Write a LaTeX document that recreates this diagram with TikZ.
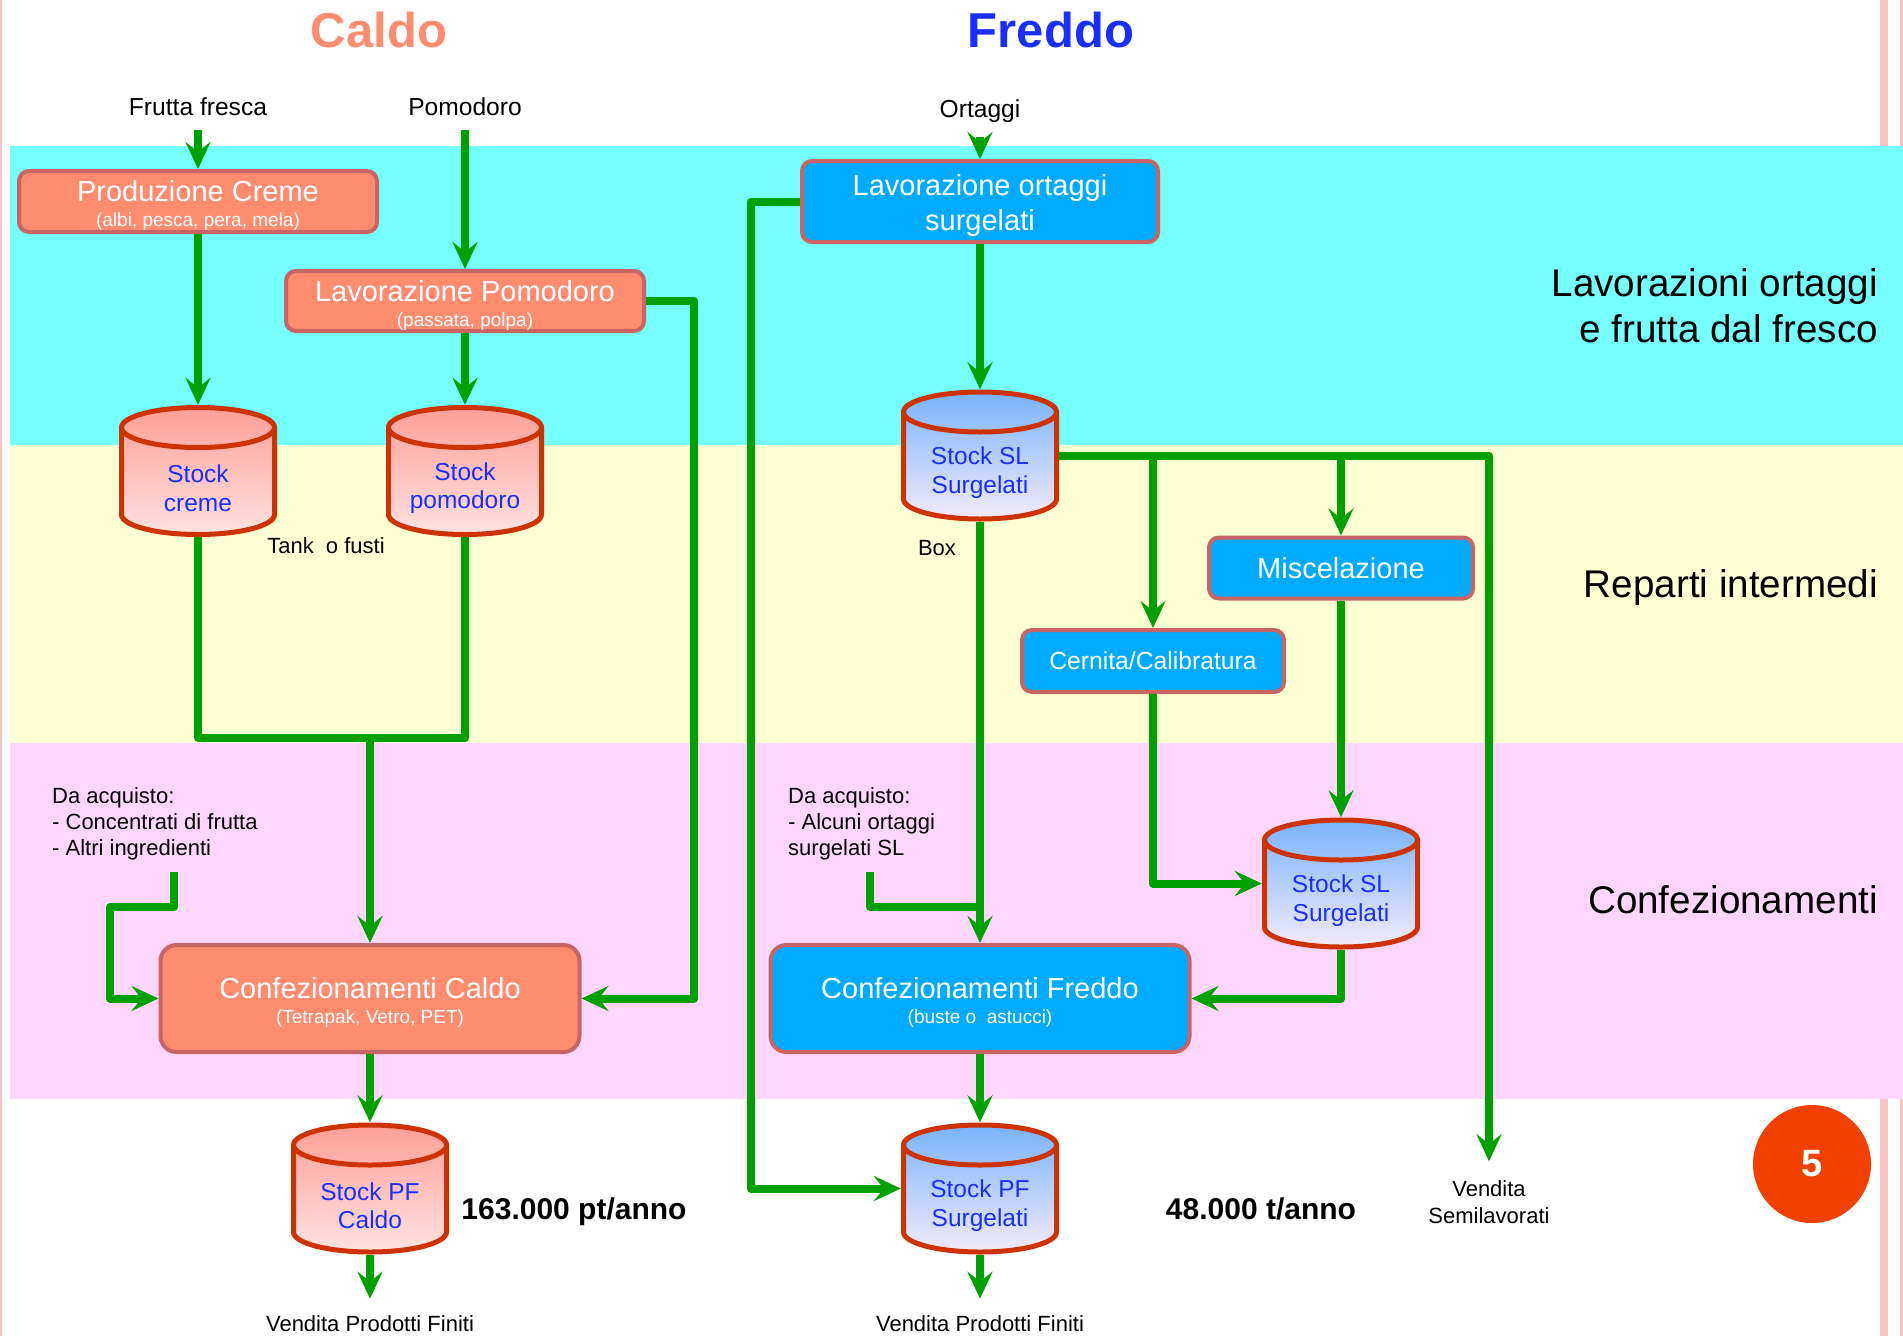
\documentclass[tikz,border=0pt]{standalone}
\usepackage{fontspec}
\setmainfont{Liberation Sans}
\usetikzlibrary{arrows.meta}

\definecolor{bandcyan}{RGB}{117,255,255}
\definecolor{bandyellow}{RGB}{255,255,212}
\definecolor{bandpink}{RGB}{255,214,255}
\definecolor{salmon}{RGB}{255,140,110}
\definecolor{skyblue}{RGB}{0,170,255}
\definecolor{boxline}{RGB}{200,100,100}
\definecolor{tankline}{RGB}{204,51,0}
\definecolor{flowgreen}{RGB}{0,160,0}
\definecolor{inkblue}{RGB}{26,46,255}
\definecolor{redtop}{RGB}{255,158,150}
\definecolor{redbottom}{RGB}{255,228,226}
\definecolor{bluetop}{RGB}{118,178,255}
\definecolor{bluebottom}{RGB}{246,236,250}
\definecolor{pagedot}{RGB}{242,64,0}
\definecolor{edgepink}{RGB}{248,196,196}

\newcommand\tankpath[2]{%
  \draw[line width=5pt, draw=tankline, top color=#1, bottom color=#2]
    ([shift={(2.5pt,-22.5pt)}]path picture bounding box.north west)
    -- ([shift={(2.5pt,22.5pt)}]path picture bounding box.south west)
    arc[start angle=180, end angle=360, x radius=76.5pt, y radius=20pt]
    -- ([shift={(-2.5pt,-22.5pt)}]path picture bounding box.north east)
    arc[start angle=0, end angle=180, x radius=76.5pt, y radius=20pt]
    -- cycle;
  \draw[line width=5pt, draw=tankline]
    ([shift={(2.5pt,-22.5pt)}]path picture bounding box.north west)
    arc[start angle=180, end angle=360, x radius=76.5pt, y radius=20pt];}
\newcommand\boxsub[1]{{\fontsize{19}{22}\selectfont #1}}
\newcommand\tstrut{\rule{0pt}{29pt}}

\begin{document}
\begin{tikzpicture}[
		x=1pt, y=-1pt,
		flowline/.style={draw=flowgreen, line width=8pt, line join=round},
		flow/.style={flowline, -{Stealth[length=27pt, width=25pt, inset=10pt]}},
		box/.style={rectangle, draw=boxline, line width=4pt, rounded corners=10pt, inner sep=0pt,
				text=white, align=center, font=\fontsize{29}{31}\selectfont},
		hot/.style={box, fill=salmon},
		cold/.style={box, fill=skyblue},
		big/.style={minimum width=419pt, minimum height=107pt, rounded corners=16pt},
		tank/.style={rectangle, inner sep=0pt, minimum width=158pt, minimum height=132pt,
				label={[tanktext]center:#1}},
		hottank/.style={tank={#1}, path picture={\tankpath{redtop}{redbottom}}},
		coldtank/.style={tank={#1}, path picture={\tankpath{bluetop}{bluebottom}}},
		tanktext/.style={text=inkblue, align=center, inner sep=0pt, yshift=-17pt,
				font=\fontsize{24.5}{28.5}\selectfont},
		title/.style={inner sep=0pt, font=\bfseries\fontsize{49}{56}\selectfont},
		source/.style={inner sep=0pt, font=\fontsize{24.6}{29}\selectfont},
		note/.style={inner sep=0pt, anchor=north west, align=left, font=\fontsize{22}{26}\selectfont},
		small/.style={inner sep=0pt, align=center, font=\fontsize{22}{27}\selectfont},
		amount/.style={inner sep=0pt, font=\bfseries\fontsize{30}{34}\selectfont},
		area/.style={inner sep=0pt, anchor=east, align=right, font=\fontsize{38.6}{46}\selectfont}
	]
	\useasboundingbox (0,0) rectangle (1903,1336);
	\fill[white] (0,0) rectangle (1903,1336);
	\fill[edgepink] (0,0) rectangle (2,1336);
	\fill[edgepink] (1880,0) rectangle (1888,1336);
	\fill[edgepink] (1900,0) rectangle (1903,1336);
	\fill[bandcyan] (10,146) rectangle (1903,445);
	\fill[bandyellow] (10,445) rectangle (1903,743);
	\fill[bandpink] (10,743) rectangle (1903,1099);

	\node[title, text=salmon] (caldo) at (379,30) {Caldo};
	\node[title, text=inkblue] (freddo) at (1051,30) {Freddo};

	\node[source] (frutta) at (198,107) {Frutta fresca};
	\node[source] (pomodoro) at (465,107) {Pomodoro};
	\node[source] (ortaggi) at (980,111) {Ortaggi};

	\node[hot, minimum width=358pt, minimum height=61pt] (prodcreme) at (198,201.5)
		{\tstrut Produzione Creme\\[-6pt]\boxsub{(albi, pesca, pera, mela)}};
	\node[hot, minimum width=358pt, minimum height=60pt] (lavpom) at (465,301)
		{\tstrut Lavorazione Pomodoro\\[-6pt]\boxsub{(passata, polpa)}};
	\node[cold, minimum width=356pt, minimum height=81pt, font=\fontsize{29}{35}\selectfont] (lavort) at (980,201.5)
		{\tstrut Lavorazione ortaggi\\surgelati};

	\node[hottank={Stock\\creme}] (screme) at (198,471) {};
	\node[hottank={Stock\\pomodoro}] (spom) at (465,471) {};
	\node[coldtank={Stock SL\\Surgelati}] (sslt) at (980,455.5) {};
	\node[small] (tanklbl) at (326,546) {Tank~ o fusti};
	\node[small] (boxlbl) at (937,548) {Box};

	\node[cold, minimum width=264pt, minimum height=61pt] (misc) at (1341,568) {Miscelazione};
	\node[cold, minimum width=262pt, minimum height=62pt, font=\fontsize{24.7}{29}\selectfont] (cernita) at (1153,661)
		{Cernita/Calibratura};
	\node[coldtank={Stock SL\\Surgelati}] (ssll) at (1341,883.5) {};

	\node[note] (acqcaldo) at (52,787) {Da acquisto:\\- Concentrati di frutta\\- Altri ingredienti};
	\node[note] (acqfreddo) at (788,787) {Da acquisto:\\- Alcuni ortaggi\\surgelati SL};
	\coordinate (acqcaldo-out) at (174,872);
	\coordinate (acqfreddo-out) at (870,872);

	\node[hot, big] (confcaldo) at (370,998.5)
		{\tstrut Confezionamenti Caldo\\[-6pt]\boxsub{(Tetrapak, Vetro, PET)}};
	\node[cold, big] (conffreddo) at (980,998.5)
		{\tstrut Confezionamenti Freddo\\[-6pt]\boxsub{(buste o~ astucci)}};

	\node[hottank={Stock PF\\Caldo}] (spfcaldo) at (370,1188.5) {};
	\node[coldtank={Stock PF\\Surgelati}] (spfsurg) at (980,1188.5) {};
	\node[amount] (qcaldo) at (574,1212) {163.000 pt/anno};
	\node[amount] (qfreddo) at (1261,1209) {48.000 t/anno};
	\node[small] (vendcaldo) at (370,1324) {Vendita Prodotti Finiti};
	\node[small] (vendfreddo) at (980,1324) {Vendita Prodotti Finiti};
	\node[small] (vendsemi) at (1489,1202) {Vendita\\Semilavorati};

	\node[area] (fasefresco) at (1878,306) {Lavorazioni ortaggi\\e frutta dal fresco};
	\node[area] (fasereparti) at (1878,588) {Reparti intermedi};
	\node[area] (faseconf) at (1878,900) {Confezionamenti};

	\node[circle, fill=pagedot, minimum size=118pt, inner sep=0pt, text=white,
		font=\bfseries\fontsize{38}{40}\selectfont] (pagenum) at (1812,1164) {5};

	\draw[flow, shorten <=14pt] (frutta) -- (prodcreme);
	\draw[flow, shorten <=14pt] (pomodoro) -- (lavpom);
	\draw[flow, shorten <=14pt] (ortaggi) -- (lavort);
	\draw[flow] (prodcreme) -- (screme);
	\draw[flow] (lavpom) -- (spom);
	\coordinate (merge) at (370,738);
	\draw[flowline] (screme.south) |- (merge) -| (spom.south);
	\draw[flow] (merge) -- (confcaldo);
	\draw[flow] (lavpom.east) -- ++(48,0) |- (confcaldo.east);
	\draw[flow] (acqcaldo-out) |- (110,907) |- (confcaldo.west);
	\draw[flow] (confcaldo) -- (spfcaldo);
	\draw[flow, shorten >=17pt] (spfcaldo) -- (vendcaldo);

	\draw[flow] (lavort) -- (sslt);
	\draw[flow] (lavort.west) -- ++(-49,0) |- (spfsurg.west);
	\draw[flow] (sslt.south) -- (conffreddo);
	\draw[flowline] (acqfreddo-out) |- (980,907);
	\draw[flow] (sslt.east) -| (cernita);
	\draw[flow] (sslt.east) -| (misc);
	\draw[flow, shorten >=19pt] (sslt.east) -| (vendsemi);
	\draw[flow] (misc) -- (ssll);
	\draw[flow] (cernita) |- (ssll.west);
	\draw[flow] (ssll.south) |- (conffreddo.east);
	\draw[flow] (conffreddo) -- (spfsurg);
	\draw[flow, shorten >=17pt] (spfsurg) -- (vendfreddo);
\end{tikzpicture}
\end{document}
